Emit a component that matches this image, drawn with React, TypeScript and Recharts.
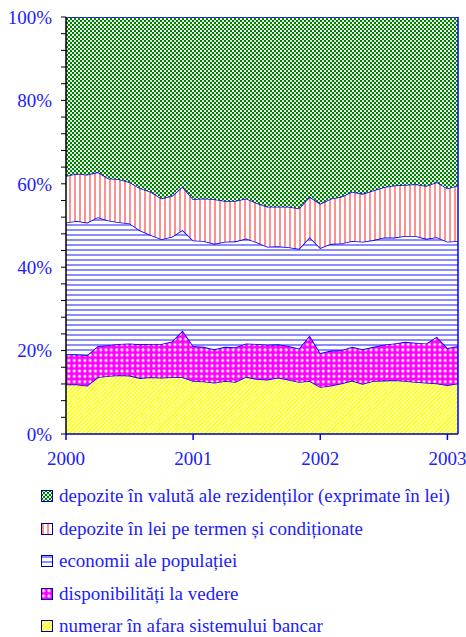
import { Area, AreaChart, ReferenceLine, XAxis, YAxis } from "recharts";

// cote lunare (% din M2), ian 2000 - feb 2003
const numerar = [
  11.9, 11.9, 11.6, 13.6, 13.9, 14.1, 14.0, 13.4, 13.6, 13.5, 13.6, 13.6,
  12.7, 12.6, 12.3, 12.7, 12.5, 13.7, 13.2, 13.0, 13.5, 13.0, 12.5, 12.7,
  11.3, 11.6, 12.1, 12.8, 12.0, 12.7, 12.8, 12.9, 12.7, 12.5, 12.3, 12.1,
  11.7, 12.1,
];
const disponibilitati = [
  7.2, 7.2, 7.3, 7.5, 7.4, 7.5, 7.7, 8.1, 8.0, 8.1, 8.6, 11.2,
  8.4, 8.3, 8.0, 8.2, 8.3, 8.0, 8.4, 8.4, 8.0, 8.1, 8.0, 10.9,
  8.1, 8.4, 8.0, 8.1, 8.3, 8.2, 8.6, 8.8, 9.4, 9.4, 9.4, 11.2,
  8.9, 9.0,
];
const economii = [
  31.6, 32.0, 31.8, 30.9, 29.9, 29.2, 28.8, 27.3, 26.1, 25.1, 25.1, 24.1,
  25.3, 25.4, 25.3, 25.2, 25.4, 25.2, 24.4, 23.5, 23.5, 23.7, 23.9, 23.6,
  25.2, 25.6, 25.6, 25.4, 25.8, 25.6, 25.7, 25.4, 25.4, 25.6, 25.1, 23.9,
  25.5, 25.2,
];
const depoziteLei = [
  11.2, 11.3, 11.5, 10.8, 10.1, 10.3, 9.9, 10.1, 10.4, 9.8, 9.8, 10.4,
  9.9, 10.2, 10.7, 9.8, 9.7, 9.6, 9.4, 9.6, 9.5, 9.7, 9.7, 9.7,
  10.6, 10.8, 11.2, 11.8, 11.5, 11.9, 12.1, 12.5, 12.2, 12.4, 12.7, 13.2,
  12.8, 13.3,
];
const depoziteValuta = [
  38.1, 37.6, 37.8, 37.2, 38.7, 38.9, 39.6, 41.1, 41.9, 43.5, 42.9, 40.7,
  43.7, 43.5, 43.7, 44.1, 44.1, 43.5, 44.6, 45.5, 45.5, 45.5, 45.9, 43.1,
  44.8, 43.6, 43.1, 41.9, 42.4, 41.6, 40.8, 40.4, 40.3, 40.1, 40.5, 39.6,
  41.1, 40.4,
];

const yearTicks = [0, 12, 24, 36];
const yearLabels = ["2000", "2001", "2002", "2003"];
const percentTicks = [
  0, 4, 8, 12, 16, 20, 24, 28, 32, 36, 40, 44, 48, 52, 56, 60, 64, 68, 72, 76,
  80, 84, 88, 92, 96, 100,
];
const percentLabels = [0, 20, 40, 60, 80, 100];

const series = [
  { key: "numerar", name: "numerar în afara sistemului bancar", fill: "url(#patYellow)" },
  { key: "disponibilitati", name: "disponibilități la vedere", fill: "url(#patMagenta)" },
  { key: "economii", name: "economii ale populației", fill: "url(#patBlue)" },
  { key: "depoziteLei", name: "depozite în lei pe termen și condiționate", fill: "url(#patPink)" },
  { key: "depoziteValuta", name: "depozite în valută ale rezidenților (exprimate în lei)", fill: "url(#patGreen)" },
];

const data = numerar.map((v, i) => ({
  luna: i,
  numerar: v,
  disponibilitati: disponibilitati[i],
  economii: economii[i],
  depoziteLei: depoziteLei[i],
  depoziteValuta: depoziteValuta[i],
}));

const BLUE = "#0000ff";
const TEXT_BLUE = "#2020ff";
const FONT = "'Liberation Serif', 'Times New Roman', serif";

function PercentTick(props: any) {
  const { x, y, payload } = props;
  if (!percentLabels.includes(payload.value)) return <g />;
  return (
    <text x={x} y={y} dy="0.355em" textAnchor="end" fill={TEXT_BLUE} fontSize={19} fontFamily={FONT}>
      {payload.value}%
    </text>
  );
}

function YearTick(props: any) {
  const { x, y, payload } = props;
  const label = yearLabels[yearTicks.indexOf(payload.value)];
  return (
    <text x={x} y={y} dy="0.71em" textAnchor="middle" fill={TEXT_BLUE} fontSize={19} fontFamily={FONT}>
      {label}
    </text>
  );
}

function Patterns() {
  return (
    <defs>
      <pattern id="patGreen" width="4" height="4" patternUnits="userSpaceOnUse">
        <rect width="4" height="4" fill="#ffffff" />
        <rect x="0" y="0" width="2" height="2" fill="#008000" />
        <rect x="2" y="2" width="2" height="2" fill="#008000" />
        <rect x="2" y="0" width="2" height="2" fill="#7fbf7f" opacity="0.35" />
      </pattern>
      <pattern id="patPink" width="5" height="5" patternUnits="userSpaceOnUse">
        <rect width="5" height="5" fill="#ffffff" />
        <rect x="1" y="0" width="2" height="5" fill="#ff9090" />
      </pattern>
      <pattern id="patBlue" width="5" height="5" patternUnits="userSpaceOnUse">
        <rect width="5" height="5" fill="#ffffff" />
        <rect x="0" y="1" width="5" height="2" fill="#8c8cff" />
      </pattern>
      <pattern id="patMagenta" width="5.3" height="5.3" patternUnits="userSpaceOnUse">
        <rect width="5.3" height="5.3" fill="#ff00ff" />
        <circle cx="2.65" cy="2.65" r="1.5" fill="#ffffff" />
      </pattern>
      <pattern id="patYellow" width="3" height="3" patternUnits="userSpaceOnUse" patternTransform="rotate(45)">
        <rect width="3" height="3" fill="#ffff00" />
        <rect x="0" y="0" width="1.2" height="3" fill="#ffffff" />
      </pattern>
    </defs>
  );
}

function LegendList() {
  const items = [...series].reverse();
  return (
    <div style={{ marginTop: 12, paddingLeft: 33, fontFamily: FONT, fontSize: 19, color: TEXT_BLUE }}>
      {items.map((s) => (
        <div key={s.key} style={{ height: 32.5, display: "flex", alignItems: "center" }}>
          <svg width="12" height="12" style={{ marginRight: 6, flexShrink: 0 }}>
            <rect x="0.5" y="0.5" width="11" height="11" fill={s.fill} stroke="#0000a0" strokeWidth="1" />
          </svg>
          <span style={{ whiteSpace: "nowrap" }}>{s.name}</span>
        </div>
      ))}
    </div>
  );
}

export default function App() {
  return (
    <div
      style={{
        width: 466,
        height: 637,
        padding: 8,
        boxSizing: "border-box",
        overflow: "hidden",
        fontFamily: FONT,
      }}
    >
      <style>{"body { margin: 0; }"}</style>
      <AreaChart width={458} height={460} data={data} margin={{ top: 9, right: 8, bottom: 4, left: 0 }}>
        <Patterns />
        <XAxis
          type="number"
          dataKey="luna"
          domain={[0, 37]}
          ticks={yearTicks}
          interval={0}
          height={30}
          tickSize={6}
          tickMargin={12}
          axisLine={{ stroke: "#0000a0", strokeWidth: 1.5 }}
          tickLine={{ stroke: BLUE, strokeWidth: 1.5 }}
          tick={<YearTick />}
          allowDataOverflow
        />
        <YAxis
          type="number"
          domain={[0, 100]}
          ticks={percentTicks}
          interval={0}
          width={58}
          tickSize={5}
          tickMargin={9}
          axisLine={{ stroke: "#000000", strokeWidth: 1.5 }}
          tickLine={{ stroke: "#000000", strokeWidth: 1 }}
          tick={<PercentTick />}
          allowDataOverflow
        />
        {series.map((s) => (
          <Area
            key={s.key}
            type="linear"
            dataKey={s.key}
            name={s.name}
            stackId="m2"
            fill={s.fill}
            fillOpacity={1}
            stroke={BLUE}
            strokeWidth={1.6}
            isAnimationActive={false}
          />
        ))}
        <ReferenceLine x={37} stroke={BLUE} strokeWidth={1.5} />
      </AreaChart>
      <LegendList />
    </div>
  );
}
